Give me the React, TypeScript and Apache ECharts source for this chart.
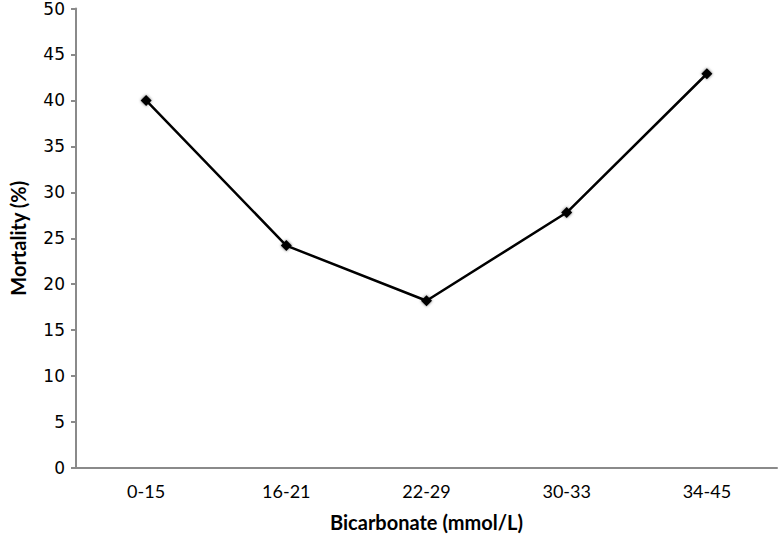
import React, { useEffect, useRef } from "react";
import * as echarts from "echarts";

const categories = ["0-15", "16-21", "22-29", "30-33", "34-45"];
const mortality = [40, 24.2, 18.2, 27.8, 42.9];
const yTicks = { min: 0, max: 50, interval: 5 };
const xTitle = "Bicarbonate (mmol/L)";
const yTitle = "Mortality (%)";

export default function App() {
  const ref = useRef<HTMLDivElement>(null);
  useEffect(() => {
    if (!ref.current) return;
    const chart = echarts.init(ref.current, undefined, { renderer: "svg" });
    chart.setOption({
      animation: false,
      backgroundColor: "#ffffff",
      grid: { left: 71, right: 3, top: 7.5, bottom: 66, containLabel: false },
      xAxis: {
        type: "category",
        data: categories,
        boundaryGap: true,
        name: xTitle,
        nameLocation: "middle",
        nameGap: 44,
        nameTextStyle: { fontFamily: "Lato", fontWeight: "bold", fontSize: 20, color: "#000", verticalAlign: "top" },
        axisLine: { lineStyle: { color: "#8a8a8a", width: 2 } },
        axisTick: { show: false },
        axisLabel: { fontFamily: "Lato", fontSize: 18, color: "#000", margin: 14 },
        splitLine: { show: false },
      },
      yAxis: {
        type: "value",
        min: yTicks.min,
        max: yTicks.max,
        interval: yTicks.interval,
        name: yTitle,
        nameLocation: "middle",
        nameGap: 48,
        nameTextStyle: { fontFamily: "Lato", fontWeight: "bold", fontSize: 20, color: "#000" },
        axisLine: { show: true, lineStyle: { color: "#8a8a8a", width: 2 } },
        axisTick: { show: true, inside: false, length: 5, lineStyle: { color: "#8a8a8a", width: 2 } },
        axisLabel: { fontFamily: "DejaVu Sans", fontSize: 17, color: "#000", margin: 11 },
        splitLine: { show: false },
      },
      series: [
        {
          type: "line",
          data: mortality,
          symbol: "diamond",
          symbolSize: 11,
          lineStyle: { color: "#000", width: 2.5 },
          itemStyle: { color: "#000", shadowBlur: 3, shadowColor: "rgba(0,0,0,0.6)" },
        },
      ],
    });
    return () => chart.dispose();
  }, []);
  return <div ref={ref} style={{ width: 780, height: 537, position: "absolute", left: 0, top: 0 }} />;
}
